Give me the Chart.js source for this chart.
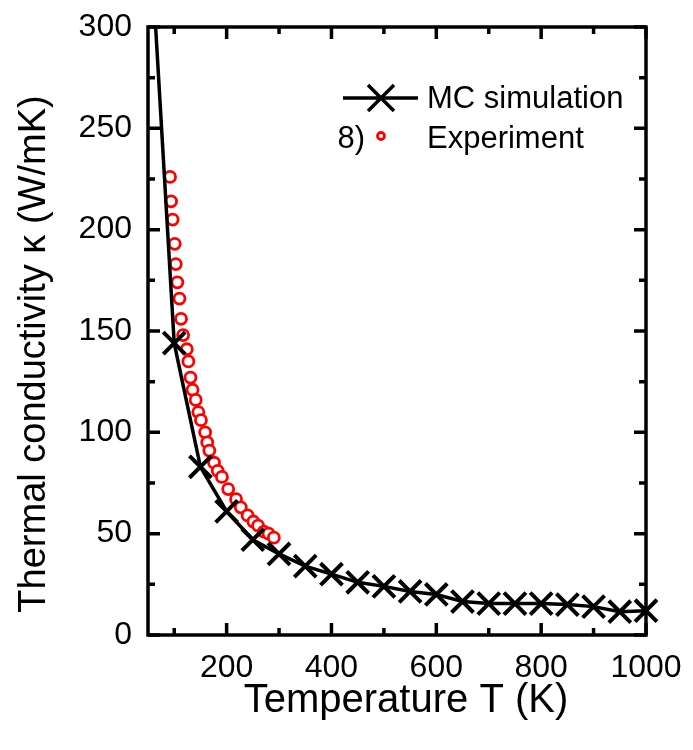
<!DOCTYPE html>
<html>
<head>
<meta charset="utf-8">
<script src="https://cdn.jsdelivr.net/npm/chart.js@4/dist/chart.umd.min.js"></script>
<style>
  html, body { margin: 0; padding: 0; background: #fff; }
</style>
</head>
<body>
<canvas id="kappa" width="693" height="750"></canvas>
<script>
// MC simulation (T in K, kappa in W/mK); first point lies above the frame
const mcT = [50, 100, 150, 200, 250, 300, 350, 400, 450, 500, 550, 600, 650, 700, 750, 800, 850, 900, 950, 1000]
const mcK = [364, 144, 83, 61, 47, 40, 34, 30, 26, 24, 21.5, 20, 16.5, 15.5, 15.5, 15.5, 15, 14, 11.5, 12]

// experiment
const expT = [92, 94, 97, 101, 103, 106, 110, 113, 117, 124, 127, 131, 135, 141, 146, 151, 159, 163, 167, 176, 183, 191, 203, 218, 227, 240, 251, 260, 271, 280, 290]
const expK = [226, 214, 205, 193, 183, 174, 166, 156, 148, 141, 135, 127, 121, 116, 110, 106, 100, 95, 91, 85, 81, 78, 72, 67, 63, 59, 56, 54, 51, 50, 48]

const xTicks = [200, 400, 600, 800, 1000]
const xMinor = [100, 300, 500, 700, 900]
const yTicks = [0, 50, 100, 150, 200, 250, 300]
const yMinor = [25, 75, 125, 175, 225, 275]

const xTitle = 'Temperature T (K)'
const yTitle = 'Thermal conductivity κ (W/mK)'

const FONT = '"Liberation Sans", Arial, sans-serif'
Chart.defaults.font.family = FONT
Chart.defaults.color = '#000'

// box round the plot with inward ticks on all four sides
const frame = {
    id: 'frame',
    beforeDatasetsDraw(chart) {
        const {ctx, chartArea: a, scales: {x, y}} = chart
        ctx.save()
        ctx.strokeStyle = '#000'
        ctx.lineWidth = 3.5
        ctx.strokeRect(a.left, a.top, a.right - a.left, a.bottom - a.top)
        ctx.beginPath()
        const tx = (v, len) => {
            const px = x.getPixelForValue(v)
            ctx.moveTo(px, a.bottom); ctx.lineTo(px, a.bottom - len)
            ctx.moveTo(px, a.top); ctx.lineTo(px, a.top + len)
        }
        const ty = (v, len) => {
            const py = y.getPixelForValue(v)
            ctx.moveTo(a.left, py); ctx.lineTo(a.left + len, py)
            ctx.moveTo(a.right, py); ctx.lineTo(a.right - len, py)
        }
        xTicks.forEach(v => tx(v, 12))
        xMinor.forEach(v => tx(v, 7))
        yTicks.forEach(v => ty(v, 12))
        yMinor.forEach(v => ty(v, 7))
        ctx.stroke()
        ctx.restore()
    }
}

// axis titles, placed a little off-centre like the figure
const titles = {
    id: 'titles',
    afterDraw(chart) {
        const {ctx, chartArea: a} = chart
        ctx.save()
        ctx.fillStyle = '#000'
        ctx.textAlign = 'center'
        ctx.textBaseline = 'alphabetic'
        ctx.font = '40px ' + FONT
        ctx.fillText(xTitle, (a.left + a.right) / 2 + 9, 712)
        ctx.font = '38px ' + FONT
        ctx.translate(45, (a.top + a.bottom) / 2 + 23)
        ctx.rotate(-Math.PI / 2)
        ctx.fillText(yTitle, 0, 0)
        ctx.restore()
    }
}

// legend as in the figure, inside the frame
const legendBox = {
    id: 'legendBox',
    afterDraw(chart) {
        const ctx = chart.ctx
        ctx.save()
        ctx.strokeStyle = '#000'
        ctx.lineWidth = 3.5
        ctx.beginPath()
        ctx.moveTo(343, 98); ctx.lineTo(418, 98)
        ctx.moveTo(368, 85); ctx.lineTo(394, 111)
        ctx.moveTo(368, 111); ctx.lineTo(394, 85)
        ctx.stroke()
        ctx.strokeStyle = '#ff0000'
        ctx.lineWidth = 2.8
        ctx.beginPath()
        ctx.arc(381, 136, 3.5, 0, Math.PI * 2)
        ctx.stroke()
        ctx.fillStyle = '#000'
        ctx.font = '31px ' + FONT
        ctx.textBaseline = 'alphabetic'
        ctx.fillText('MC simulation', 427, 108)
        ctx.fillText('Experiment', 427, 148)
        ctx.textAlign = 'right'
        ctx.fillText('8)', 365, 148)
        ctx.restore()
    }
}

const kappa = new Chart(
    document.getElementById('kappa'),
    {
        type: 'scatter',
        data: {
            datasets: [{
                label: 'MC simulation',
                data: mcT.map((t, i) => ({x: t, y: mcK[i]})),
                showLine: true,
                borderColor: '#000',
                borderWidth: 3.5,
                tension: 0,
                pointStyle: 'crossRot',
                pointRadius: mcT.map(t => t < 100 ? 0 : 15.5),
                pointBorderWidth: 4,
                pointBorderColor: '#000',
                clip: {left: 0, top: 0, right: 20, bottom: 0},
            }, {
                label: 'Experiment',
                data: expT.map((t, i) => ({x: t, y: expK[i]})),
                showLine: false,
                pointStyle: 'circle',
                pointRadius: 5.5,
                pointBorderWidth: 2.8,
                pointBorderColor: '#ff0000',
                pointBackgroundColor: '#fff',
            }]
        },
        options: {
            responsive: false,
            animation: false,
            devicePixelRatio: 1,
            layout: {padding: {top: 27, right: 47}},
            plugins: {
                legend: {display: false},
                tooltip: {enabled: false},
            },
            scales: {
                x: {
                    type: 'linear',
                    min: 50,
                    max: 1000,
                    afterFit: (s) => { s.height = 115 },
                    afterBuildTicks: (s) => { s.ticks = xTicks.map(v => ({value: v})) },
                    // tick marks are drawn by the frame plugin; tickLength only spaces the labels
                    grid: {display: false, drawTicks: true, tickLength: 12},
                    border: {display: false},
                    ticks: {
                        font: {size: 32},
                        padding: 2,
                        maxRotation: 0,
                        callback: (v) => String(v),
                    },
                },
                y: {
                    min: 0,
                    max: 300,
                    afterFit: (s) => { s.width = 148 },
                    afterBuildTicks: (s) => { s.ticks = yTicks.map(v => ({value: v})) },
                    grid: {display: false, drawTicks: true, tickLength: 14},
                    border: {display: false},
                    ticks: {
                        font: {size: 32},
                        padding: 2,
                        callback: (v) => String(v),
                    },
                },
            },
        },
        plugins: [frame, titles, legendBox],
    }
)
</script>
</body>
</html>
